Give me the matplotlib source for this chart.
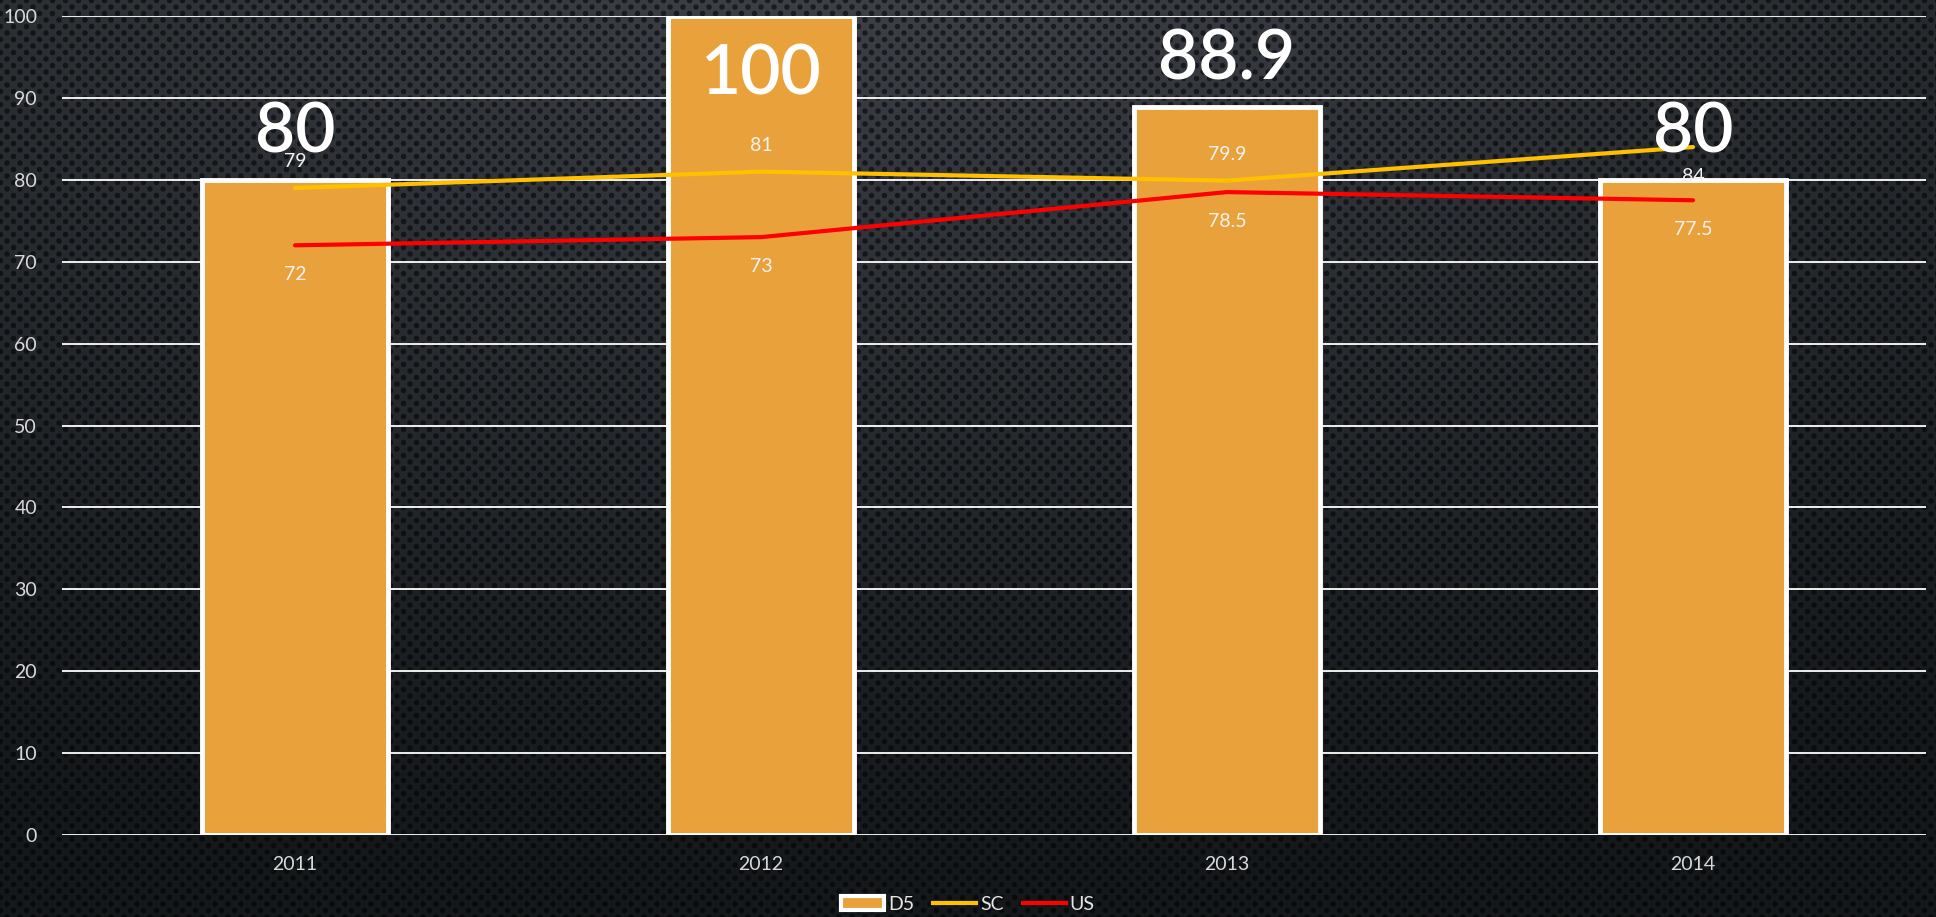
import numpy as np
import matplotlib
matplotlib.use("Agg")
import matplotlib.pyplot as plt
from matplotlib.patches import Patch
from matplotlib.lines import Line2D

plt.rcParams['font.family'] = ['Lato', 'DejaVu Sans']

# datos del grafico
years = ["2011", "2012", "2013", "2014"]
d5 = [80, 100, 88.9, 80]
sc = [79, 81, 79.9, 84]
us = [72, 73, 78.5, 77.5]
sc_label_pos = ["above", "above", "above", "below"]
us_label_pos = ["below", "below", "below", "below"]

W, H = 1936, 917
fig = plt.figure(figsize=(W / 100, H / 100), dpi=100)

# fondo oscuro con puntos (textura)
yy, xx = np.mgrid[0:H, 0:W]
r = np.sqrt(((xx - W * 0.45) / W) ** 2 + ((yy + H * 0.1) / H) ** 2)
base = np.clip(1 - r / 1.1, 0, 1)
top = np.array([0x42, 0x45, 0x4c]) / 255
bot = np.array([0x15, 0x18, 0x1b]) / 255
img = bot + (top - bot) * base[..., None] ** 1.3
dx, dy = 13.0, 6.5
row = np.round(yy / dy)
off = (row % 2) * dx / 2
cx = np.round((xx - off) / dx) * dx + off
cy = row * dy
d = np.sqrt((xx - cx) ** 2 + (yy - cy) ** 2)
dots = np.clip(3.2 - d, 0, 1)
img = img * (1 - 0.55 * dots[..., None])
bg = fig.add_axes([0, 0, 1, 1])
bg.imshow(img, aspect="auto", interpolation="nearest")
bg.axis("off")

ax = fig.add_axes([62 / W, 1 - 835 / H, (1926 - 62) / W, (835 - 16) / H])
ax.set_facecolor("none")
x = np.arange(len(years))

ax.bar(x, d5, width=0.40, color="#E9A23B", edgecolor="white", linewidth=3.5, zorder=2)
ax.plot(x, sc, color="#FFC000", lw=3, solid_capstyle="round", zorder=3)
ax.plot(x, us, color="#FF0000", lw=3, solid_capstyle="round", zorder=3)

ax.set_xlim(-0.5, len(years) - 0.5)
ax.set_ylim(0, 100)
ax.set_yticks(range(0, 101, 10))
ax.set_xticks(x)
ax.set_xticklabels(years)
ax.grid(axis="y", color="white", lw=1.3, zorder=1)
ax.set_axisbelow(True)
for s in ax.spines.values():
    s.set_visible(False)
ax.tick_params(length=0, colors="#d9d9d9", labelsize=14)
ax.tick_params(axis="y", pad=18)
ax.tick_params(axis="x", pad=15)

# etiquetas grandes de las barras
for xi, v in zip(x, d5):
    if v >= 95:
        ax.annotate(f"{v:g}", (xi, v), xytext=(0, -20), textcoords="offset points",
                    ha="center", va="top", fontsize=50, fontweight="semibold",
                    color="white", zorder=5)
    else:
        ax.annotate(f"{v:g}", (xi, v), xytext=(0, 11), textcoords="offset points",
                    ha="center", va="bottom", fontsize=50, fontweight="semibold",
                    color="white", zorder=5)

# etiquetas de las lineas
for vals, pos in ((sc, sc_label_pos), (us, us_label_pos)):
    for xi, v, p in zip(x, vals, pos):
        dyo = 19 if p == "above" else -21
        ax.annotate(f"{v:g}", (xi, v), xytext=(0, dyo), textcoords="offset points",
                    ha="center", va="center", fontsize=14, color="#f2f2f2", zorder=5)

handles = [Patch(facecolor="#E9A23B", edgecolor="white", lw=3),
           Line2D([], [], color="#FFC000", lw=3),
           Line2D([], [], color="#FF0000", lw=3)]
fig.legend(handles, ["D5", "SC", "US"], loc="center", bbox_to_anchor=(0.5, 1 - 904 / H),
           ncol=3, frameon=False, fontsize=14, labelcolor="#e6e6e6",
           handlelength=2.2, handletextpad=0.2, columnspacing=1.0)

fig.savefig("out.png", dpi=100)
